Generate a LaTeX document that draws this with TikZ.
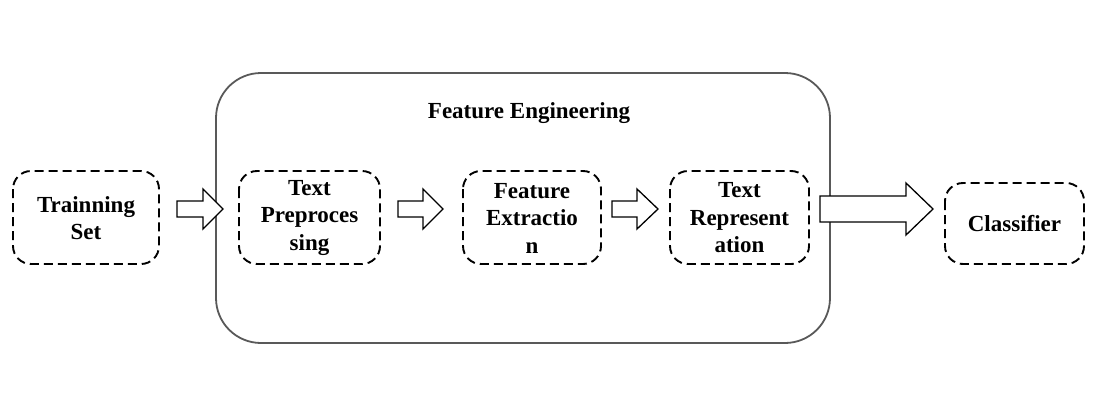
\documentclass[tikz,border=0pt]{standalone}
\usepackage{fontspec}
\setmainfont{Liberation Serif}
\begin{document}
\begin{tikzpicture}[x=1pt,y=-1pt,
  stage/.style={draw=black, line width=1.9pt, dash pattern=on 9pt off 5pt,
    rounded corners=18pt, inner sep=0pt},
  lbl/.style={font=\fontsize{23}{27.5}\selectfont\bfseries, align=center},
  blk/.style={draw=black, line width=1.3pt, fill=white, line join=miter}]
\useasboundingbox (0,0) rectangle (1095,410);
% big container
\draw[draw=black!65, line width=1.8pt, rounded corners=45pt] (216,73) rectangle (830,343);
\node[lbl] (fe) at (529,113) {Feature Engineering};
% stage boxes
\draw[stage] (13,171) rectangle (159,264);
\node[lbl] (ts) at (86,218) {Trainning\\Set};
\draw[stage] (239,171) rectangle (380,264);
\node[lbl] (tp) at (309.5,218) {Text\\Preproces\\sing};
\draw[stage] (463,171) rectangle (601,264);
\node[lbl] (fx) at (532,218) {Feature\\Extractio\\n};
\draw[stage] (670,171) rectangle (809,264);
\node[lbl] (tr) at (739.5,218) {Text\\Represent\\ation};
\draw[stage] (945,183) rectangle (1084,264);
\node[lbl] (cl) at (1014.5,224) {Classifier};
% block arrows
\newcommand{\blockarr}[6]{% x1, xh, xt, yc, shaft half, head half
  \draw[blk] (#1,#4-#5) -- (#2,#4-#5) -- (#2,#4-#6) -- (#3,#4) -- (#2,#4+#6) -- (#2,#4+#5) -- (#1,#4+#5) -- cycle;}
\blockarr{177}{203}{223}{209}{8}{20}
\blockarr{398}{423}{443}{209}{8}{20}
\blockarr{612}{637}{658}{209}{8}{20}
\blockarr{820}{906}{933}{209}{13}{26}
\end{tikzpicture}
\end{document}
